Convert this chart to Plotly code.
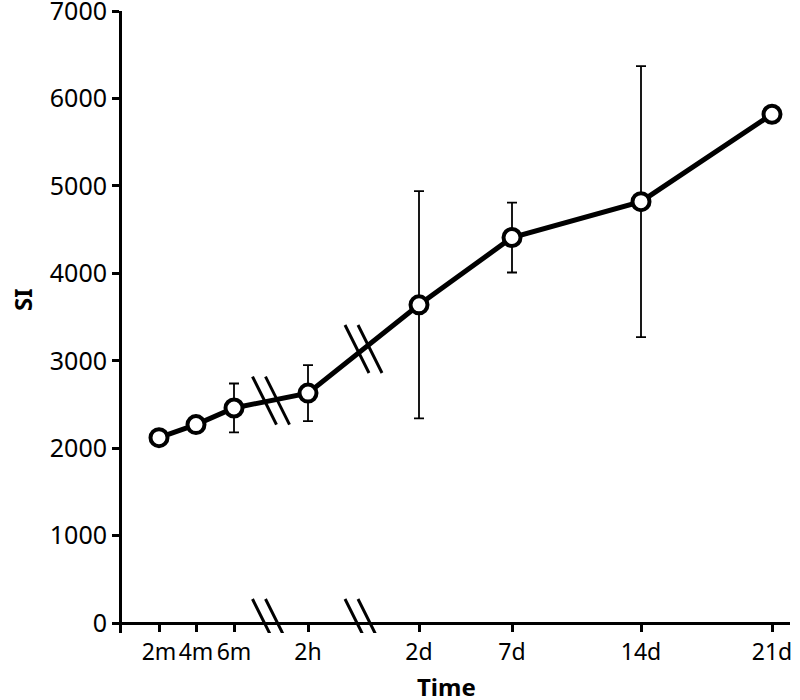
import plotly.graph_objects as go

# time points, their places on the broken x scale, mean SI and error
labels = ['2m', '4m', '6m', '2h', '2d', '7d', '14d', '21d']
xpos = [37, 74, 112, 186, 297, 390, 519, 650]
si = [2120, 2270, 2460, 2630, 3640, 4410, 4820, 5820]
err = [0, 0, 280, 320, 1300, 400, 1550, 0]
breaks_after = [2, 3]  # axis breaks between 6m-2h and 2h-2d

font = 'Noto Sans'

fig = go.Figure()
fig.add_trace(go.Scatter(
    x=xpos, y=si,
    mode='lines+markers',
    line=dict(color='black', width=5),
    marker=dict(symbol='circle', size=17, color='white',
                line=dict(color='black', width=4)),
    error_y=dict(type='data', array=err, visible=True,
                 color='black', thickness=1.8, width=5),
    showlegend=False,
))

shapes = []


def slashes(cx, cy):
    out = []
    for dx in (-6.5, 6.5):
        out.append(dict(type='line', xref='x', yref='y',
                        xsizemode='pixel', ysizemode='pixel',
                        xanchor=cx, yanchor=cy,
                        x0=dx - 12, x1=dx + 12, y0=24, y1=-24,
                        line=dict(color='black', width=3)))
    return out


for i in breaks_after:
    cx = (xpos[i] + xpos[i + 1]) / 2
    cy = (si[i] + si[i + 1]) / 2
    shapes += slashes(cx, cy)
    shapes += slashes(cx, 0)

fig.update_layout(
    width=800, height=700,
    margin=dict(l=122, r=10, t=11, b=67),
    paper_bgcolor='white', plot_bgcolor='white',
    font=dict(family=font, size=24, color='black'),
    shapes=shapes,
    xaxis=dict(
        range=[0, 668], tickvals=xpos, ticktext=labels, tickangle=0,
        showgrid=False, zeroline=False, automargin=False,
        showline=True, linecolor='black', linewidth=3,
        ticks='outside', ticklen=7, tickwidth=3, tickcolor='black',
        anchor='free', position=114 / 7114,
        tickfont=dict(size=23),
    ),
    yaxis=dict(
        range=[-114, 7001], tickvals=[0, 1000, 2000, 3000, 4000, 5000, 6000, 7000],
        showgrid=False, zeroline=False, ticklabeloverflow='allow',
        automargin=False,
        showline=True, linecolor='black', linewidth=3,
        ticks='outside', ticklen=7, tickwidth=3, tickcolor='black',
        tickfont=dict(size=25),
    ),
    annotations=[
        dict(text='<b>Time</b>', xref='paper', yref='paper',
             x=(446 - 122) / 668, y=-(686 - 633) / 622,
             showarrow=False, font=dict(size=24), yanchor='middle'),
        dict(text='<b>SI</b>', xref='paper', yref='paper',
             x=-(122 - 22) / 668, y=(633 - 300) / 622, textangle=-90,
             showarrow=False, font=dict(size=24), xanchor='center'),
    ],
)

# drop the page's default body margin so the figure sits at the corner
fig.write_html('out.html', config={'displayModeBar': False},
               post_script="document.body.style.margin='0';")
